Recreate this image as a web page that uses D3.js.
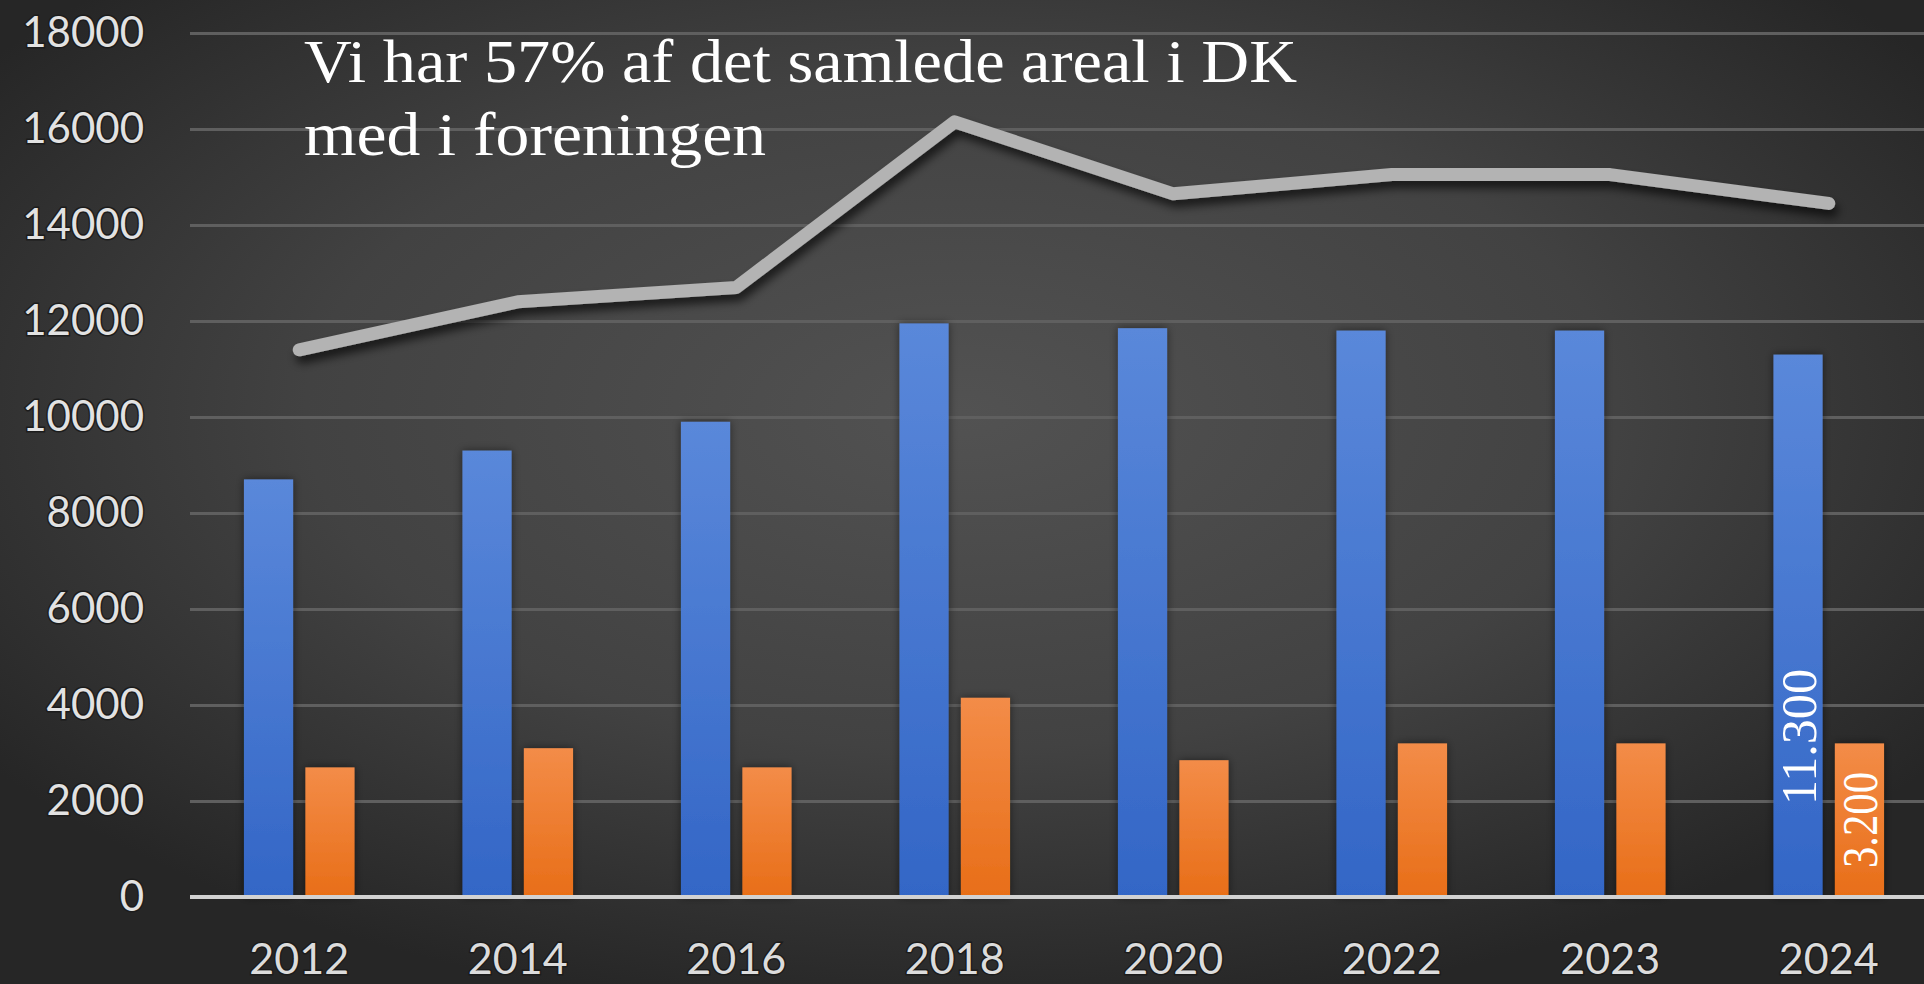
<!DOCTYPE html>
<html>
<head>
<meta charset="utf-8">
<script src="https://cdn.jsdelivr.net/npm/d3@7.9.0/dist/d3.min.js"></script>
<style>
  html, body { margin: 0; padding: 0; background: #2a2a2a; overflow: hidden; }
  svg { display: block; }
</style>
</head>
<body>
<svg id="chart"></svg>
<script>
// data
const years = ['2012', '2014', '2016', '2018', '2020', '2022', '2023', '2024'];
const blueValues = [8700, 9300, 9900, 11950, 11850, 11800, 11800, 11300];
const orangeValues = [2700, 3100, 2700, 4150, 2850, 3200, 3200, 3200];
const lineValues = [11400, 12400, 12700, 16150, 14650, 15050, 15050, 14450];
const yTicks = [0, 2000, 4000, 6000, 8000, 10000, 12000, 14000, 16000, 18000];
const titleLines = ['Vi har 57% af det samlede areal i DK', 'med i foreningen'];
const barLabels = [{ year: '2024', series: 'blue', text: '11.300' }, { year: '2024', series: 'orange', text: '3.200' }];

const width = 1924;
const height = 984;

const svg = d3.select('#chart').attr('width', width).attr('height', height);
const defs = svg.append('defs');

// background: dark radial glow
const bg = defs.append('radialGradient').attr('id', 'bg')
  .attr('cx', '50%').attr('cy', '42%').attr('r', '62%');
bg.append('stop').attr('offset', '0%').attr('stop-color', '#525252');
bg.append('stop').attr('offset', '55%').attr('stop-color', '#424242');
bg.append('stop').attr('offset', '100%').attr('stop-color', '#262626');

const blueGrad = defs.append('linearGradient').attr('id', 'blueGrad')
  .attr('x1', 0).attr('y1', 0).attr('x2', 0).attr('y2', 1);
blueGrad.append('stop').attr('offset', '0%').attr('stop-color', '#5a88da');
blueGrad.append('stop').attr('offset', '100%').attr('stop-color', '#3366c6');

const orangeGrad = defs.append('linearGradient').attr('id', 'orangeGrad')
  .attr('x1', 0).attr('y1', 0).attr('x2', 0).attr('y2', 1);
orangeGrad.append('stop').attr('offset', '0%').attr('stop-color', '#f38c48');
orangeGrad.append('stop').attr('offset', '100%').attr('stop-color', '#e86e18');

const shadow = defs.append('filter').attr('id', 'shadow')
  .attr('x', '-10%').attr('y', '-30%').attr('width', '120%').attr('height', '160%');
shadow.append('feDropShadow').attr('dx', 3).attr('dy', 7).attr('stdDeviation', 5)
  .attr('flood-color', '#000').attr('flood-opacity', 0.65);

const barShadow = defs.append('filter').attr('id', 'barShadow')
  .attr('x', '-30%').attr('y', '-10%').attr('width', '160%').attr('height', '120%');
barShadow.append('feDropShadow').attr('dx', 0).attr('dy', 0).attr('stdDeviation', 4)
  .attr('flood-color', '#000').attr('flood-opacity', 0.5);

svg.append('rect').attr('width', width).attr('height', height).attr('fill', 'url(#bg)');

// scales
const plotLeft = 190;
const x = d3.scaleBand().domain(years).range([plotLeft, 1938]).padding(0);
const xSeries = d3.scaleBand().domain(['blue', 'orange'])
  .range([x.bandwidth() * 0.247, x.bandwidth() * 0.753]).paddingInner(0.2);
const y = d3.scaleLinear().domain([0, 18000]).range([897, 33]);

// gridlines + y labels
const yAxis = svg.append('g')
  .attr('transform', `translate(${plotLeft},0)`)
  .call(d3.axisLeft(y).tickValues(yTicks).tickSize(-(width - plotLeft)).tickFormat(d3.format('d')));
yAxis.select('.domain').remove();
yAxis.selectAll('.tick line').attr('stroke', '#5f5f5f').attr('stroke-width', 3);
yAxis.selectAll('.tick text')
  .attr('x', -46)
  .attr('fill', '#e2e2e2')
  .attr('stroke', '#1c1c1c').attr('stroke-width', 3).attr('paint-order', 'stroke')
  .style('font-family', 'Lato, "Open Sans", sans-serif')
  .style('font-size', '42px');

// bars
const rows = years.map((yr, i) => ({ year: yr, blue: blueValues[i], orange: orangeValues[i], line: lineValues[i] }));

const barG = svg.append('g').attr('filter', 'url(#barShadow)');
['blue', 'orange'].forEach(key => {
  barG.selectAll(`rect.${key}`)
    .data(rows)
    .join('rect')
    .attr('class', key)
    .attr('x', d => x(d.year) + xSeries(key))
    .attr('width', xSeries.bandwidth())
    .attr('y', d => y(d[key]))
    .attr('height', d => y(0) - y(d[key]))
    .attr('fill', key === 'blue' ? 'url(#blueGrad)' : 'url(#orangeGrad)');
});

// baseline
svg.append('line')
  .attr('x1', plotLeft).attr('x2', width)
  .attr('y1', y(0)).attr('y2', y(0))
  .attr('stroke', '#d2d2d2').attr('stroke-width', 4);

// x labels
svg.append('g').selectAll('text')
  .data(years)
  .join('text')
  .attr('x', d => x(d) + x.bandwidth() / 2)
  .attr('y', 974)
  .attr('text-anchor', 'middle')
  .attr('fill', '#dcdcdc')
  .attr('stroke', '#1c1c1c').attr('stroke-width', 3).attr('paint-order', 'stroke')
  .style('font-family', 'Lato, "Open Sans", sans-serif')
  .style('font-size', '43px')
  .text(d => d);

// total line
const line = d3.line()
  .x(d => x(d.year) + x.bandwidth() / 2)
  .y(d => y(d.line));

svg.append('path')
  .datum(rows)
  .attr('d', line)
  .attr('fill', 'none')
  .attr('stroke', '#b3b3b3')
  .attr('stroke-width', 13)
  .attr('stroke-linejoin', 'round')
  .attr('stroke-linecap', 'round')
  .attr('filter', 'url(#shadow)');

// rotated value labels inside the 2024 bars
const labelCenter = { blue: 737, orange: 820 };
svg.append('g').selectAll('text')
  .data(barLabels)
  .join('text')
  .attr('transform', d => {
    const cx = x(d.year) + xSeries(d.series) + xSeries.bandwidth() / 2;
    return `translate(${cx},${labelCenter[d.series]}) rotate(-90)`;
  })
  .attr('text-anchor', 'middle')
  .attr('dy', '0.35em')
  .attr('fill', '#ffffff')
  .style('font-family', '"Liberation Serif", "DejaVu Serif", serif')
  .style('font-size', '50px')
  .attr('textLength', d => d.series === 'blue' ? 136 : 96)
  .attr('lengthAdjust', 'spacingAndGlyphs')
  .text(d => d.text);

// title text
svg.append('g').selectAll('text')
  .data(titleLines)
  .join('text')
  .attr('x', 304)
  .attr('y', (d, i) => i === 0 ? 82 : 155)
  .attr('fill', '#ffffff')
  .style('font-family', '"Liberation Serif", "DejaVu Serif", serif')
  .style('font-size', '62px')
  .attr('textLength', (d, i) => i === 0 ? 993 : 462)
  .attr('lengthAdjust', 'spacingAndGlyphs')
  .text(d => d);
</script>
</body>
</html>
